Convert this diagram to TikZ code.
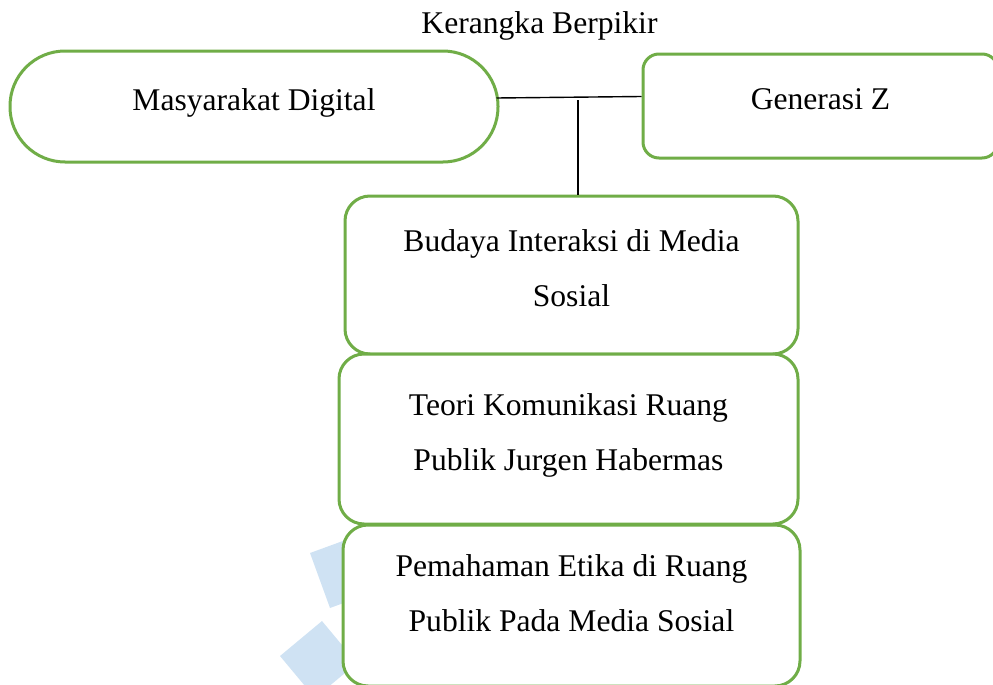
\documentclass[tikz,border=0pt]{standalone}
\usepackage{fontspec}
\setmainfont{Liberation Serif}
\newcommand\myfont{\fontsize{15.8pt}{27.5pt}\selectfont}
\definecolor{boxgreen}{RGB}{112,173,71}
\definecolor{wmblue}{RGB}{207,226,243}
\tikzset{
  gbox/.style={draw=boxgreen, line width=1.5pt, fill=white, rectangle,
    inner sep=0pt, align=center, font=\myfont, text depth=7pt},
  link/.style={draw=black, line width=0.7pt}
}
\begin{document}
\begin{tikzpicture}[x=0.5pt,y=-0.5pt]
\useasboundingbox (0,0) rectangle (993,685);
% watermark
\fill[wmblue] (310,553) -- (362,534) -- (382,589) -- (330,608) -- cycle;
\fill[wmblue] (280,656) -- (322,621) -- (357,663) -- (315,698) -- cycle;
% title
\node[font=\myfont, anchor=base, inner sep=0pt] (title) at (539.5,33) {Kerangka Berpikir};
% top nodes
\node[gbox, rounded corners=27.5pt, minimum width=244pt, minimum height=55.5pt] (md) at (254,106.5) {Masyarakat Digital};
\node[gbox, rounded corners=8pt, minimum width=177.5pt, minimum height=52pt] (gz) at (820.5,106) {Generasi Z};
% stacked boxes
\node[gbox, rounded corners=12.5pt, minimum width=226.5pt, minimum height=79pt] (b1) at (571.5,275) {Budaya Interaksi di Media\\Sosial};
\node[gbox, rounded corners=12.5pt, minimum width=229.5pt, minimum height=85pt] (b2) at (568.5,439) {Teori Komunikasi Ruang\\Publik Jurgen Habermas};
\node[gbox, rounded corners=12.5pt, minimum width=228.5pt, minimum height=80.5pt, text depth=12pt] (b3) at (571.5,605.5) {Pemahaman Etika di Ruang\\Publik Pada Media Sosial};
% connectors
\draw[link] ([xshift=-1.5pt,yshift=4.25pt]md.east) -- ([yshift=4.75pt]gz.west);
\coordinate (j) at (578,100);
\draw[link] (j) -- (j |- b1.north);
\end{tikzpicture}
\end{document}
